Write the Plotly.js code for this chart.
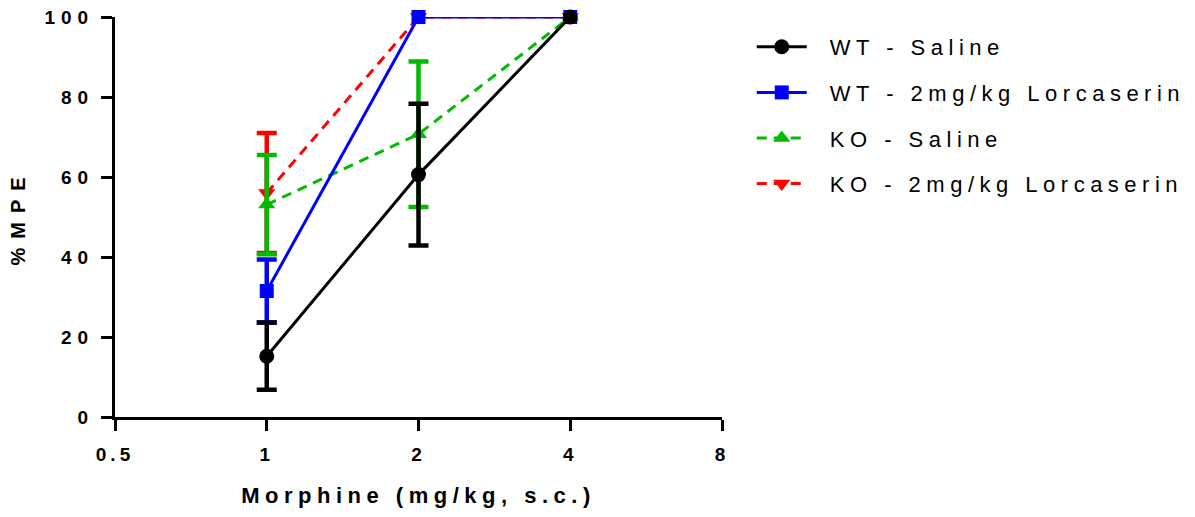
<!DOCTYPE html>
<html>
<head>
<meta charset="utf-8">
<script src="https://cdn.plot.ly/plotly-3.0.1.min.js"></script>
<style>
  html, body { margin: 0; padding: 0; background: #fff; }
  #chart { width: 1195px; height: 517px; }
  .xtick text { letter-spacing: 4px; }
  .ytick text { letter-spacing: 6px; }
  text.xtitle { letter-spacing: 5.5px; }
  text.ytitle { letter-spacing: 9px; }
  text.legendtext { letter-spacing: 5.5px; transform: translate(18px, 0px); }
  g.legend g.scrollbox { clip-path: none !important; }
</style>
</head>
<body>
<div id="chart"></div>
<script>
// Data
const doses = [1, 2, 4];
const seriesNames = ['WT - Saline', 'WT - 2mg/kg Lorcaserin', 'KO - Saline', 'KO - 2mg/kg Lorcaserin'];
const wtSaline = [15.2, 60.6, 100];
const wtSalineErr = [8.4, 17.7, NaN];
const wtLorc = [31.5, 100, 100];
const wtLorcErr = [7.9, NaN, NaN];
const koSaline = [53.1, 70.7, 100];
const koSalineErr = [12.4, 18.2, NaN];
const koLorc = [56, 100, 100];
const koLorcErr = [15, NaN, NaN];
const xTickVals = [0.5, 1, 2, 4, 8];
const xTickText = ['0.5', '1', '2', '4', '8'];
const yTickVals = [0, 20, 40, 60, 80, 100];

const FONT = 'Liberation Sans, Arial, sans-serif';

function mk(name, y, err, color, symbol, dash, rank, msize) {
  return {
    type: 'scatter', mode: 'lines+markers', name: name,
    x: doses, y: y,
    legendgroup: 'g' + rank, legendrank: rank,
    line: { color: color, width: 3, dash: dash },
    marker: { color: color, symbol: symbol, size: msize },
    error_y: { type: 'data', array: err, visible: true, color: color, thickness: 4.5, width: 10 },
    cliponaxis: false
  };
}

// drawn bottom-to-top: red, green, blue, black
const traces = [
  mk(seriesNames[3], koLorc, koLorcErr, '#ff0000', 'triangle-down', '10px,7px', 4, 15),
  mk(seriesNames[2], koSaline, koSalineErr, '#00bb00', 'triangle-up', '10px,7px', 3, 15),
  mk(seriesNames[1], wtLorc, wtLorcErr, '#0000ff', 'square', 'solid', 2, 14),
  mk(seriesNames[0], wtSaline, wtSalineErr, '#000000', 'circle', 'solid', 1, 15)
];

const layout = {
  width: 1195, height: 517,
  margin: { l: 115, r: 473, t: 17, b: 100 },
  paper_bgcolor: '#fff', plot_bgcolor: '#fff',
  showlegend: true,
  legend: {
    x: 1.049, y: 0.9775, xanchor: 'left', yanchor: 'top',
    traceorder: 'grouped', tracegroupgap: 14, itemwidth: 50,
    bgcolor: 'rgba(0,0,0,0)',
    font: { family: FONT, size: 22, color: '#000' }
  },
  xaxis: {
    type: 'log', range: [Math.log10(0.5), Math.log10(8)],
    tickvals: xTickVals, ticktext: xTickText,
    showgrid: false, zeroline: false,
    showline: true, linecolor: '#000', linewidth: 3,
    ticks: 'outside', ticklen: 11, tickwidth: 3, tickcolor: '#000',
    ticklabelstandoff: 7,
    tickfont: { family: FONT, size: 19, weight: 'bold', color: '#000' },
    title: { text: 'Morphine (mg/kg, s.c.)', font: { family: FONT, size: 22, weight: 'bold', color: '#000' }, standoff: 24 }
  },
  yaxis: {
    range: [0, 100], tickvals: yTickVals,
    showgrid: false, zeroline: false,
    showline: true, linecolor: '#000', linewidth: 3,
    ticks: 'outside', ticklen: 11, tickwidth: 3, tickcolor: '#000',
    ticklabelstandoff: 3,
    tickfont: { family: FONT, size: 19, weight: 'bold', color: '#000' },
    title: { text: '%MPE', font: { family: FONT, size: 20, weight: 'bold', color: '#000' }, standoff: 14 }
  }
};

Plotly.newPlot('chart', traces, layout, { displayModeBar: false, staticPlot: true });
</script>
</body>
</html>
